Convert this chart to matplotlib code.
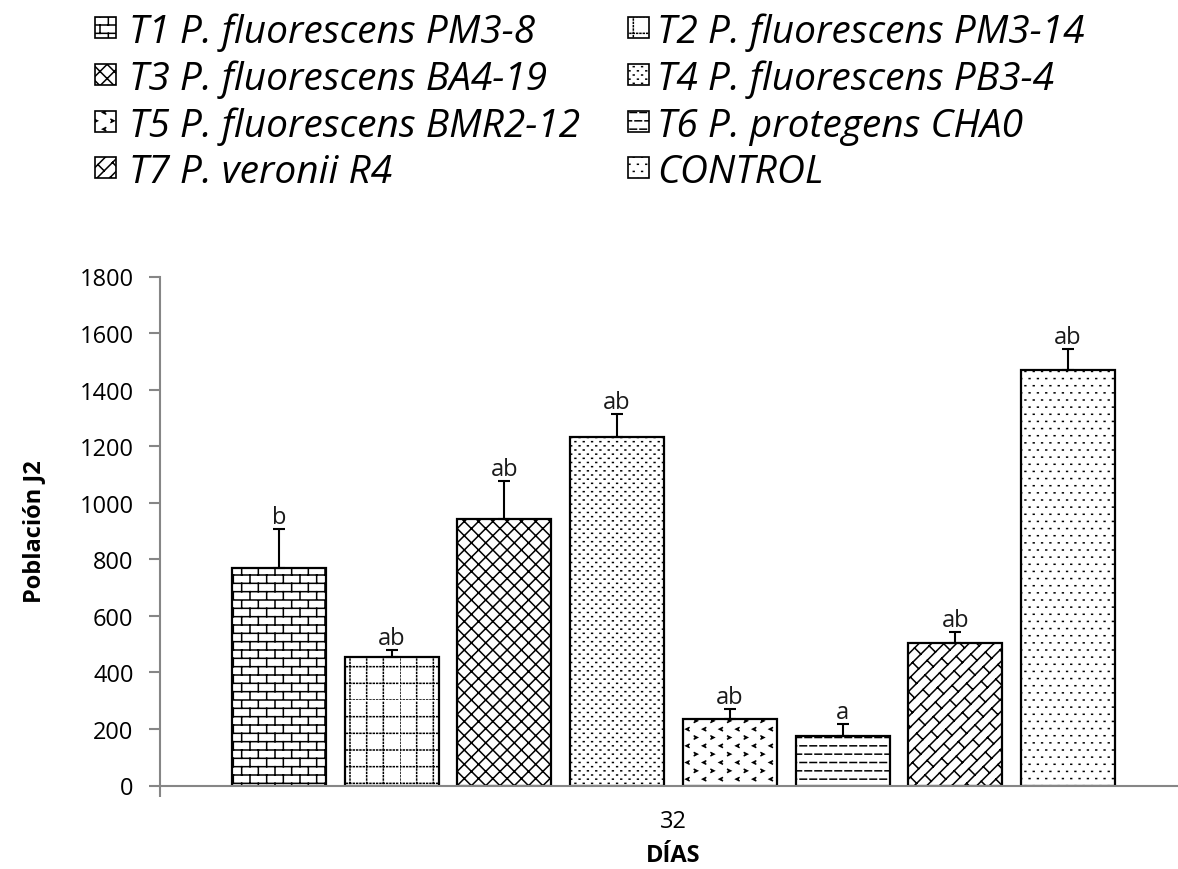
import numpy as np
import matplotlib
matplotlib.use("Agg")
import matplotlib.pyplot as plt
import matplotlib.hatch as mhatch
from matplotlib.path import Path
from matplotlib.patches import Rectangle

# ---------------- data ----------------
treatments = ["T1 P. fluorescens PM3-8", "T2 P. fluorescens PM3-14",
              "T3 P. fluorescens BA4-19", "T4 P. fluorescens PB3-4",
              "T5 P. fluorescens BMR2-12", "T6 P. protegens CHA0",
              "T7 P. veronii R4", "CONTROL"]
means = [768, 455, 942, 1231, 235, 174, 503, 1469]
errors = [139, 24, 135, 83, 35, 44, 39, 75]
letters = ["b", "ab", "ab", "ab", "ab", "a", "ab", "ab"]
day_label = ["32"]
yticks = [0, 200, 400, 600, 800, 1000, 1200, 1400, 1600, 1800]

# ---------------- custom hatch patterns (100 px tile) ----------------
def _pl_to_path(polylines):
    verts, codes = [], []
    for pl in polylines:
        for j, (x, y) in enumerate(pl):
            verts.append((x / 100.0, y / 100.0))
            codes.append(Path.MOVETO if j == 0 else Path.LINETO)
    return Path(np.array(verts, float), np.array(codes, dtype=Path.code_type))

def _brick():
    h, w = 100 / 12, 100 / 6
    pl = [[(-2, k * h), (102, k * h)] for k in range(13)]
    for k in range(12):
        off = (k % 2) * w / 2
        for j in range(-1, 7):
            x = j * w + off
            pl.append([(x, k * h), (x, (k + 1) * h)])
    return pl

def _dotgrid():
    w = 100 / 6
    pl = []
    for j in range(6):
        c = j * w
        for m in range(30):
            p = m * 100 / 30
            pl.append([(c, p), (c, p + 0.9)])
            pl.append([(p, c), (p + 0.9, c)])
    return pl

def _cross():
    s = 100 / 7
    pl = []
    for k in range(-8, 16):
        c = k * s
        pl.append([(-20, -20 + c), (120, 120 + c)])
        pl.append([(-20, 20 + c), (120, -120 + c)])
    return pl

def _chevrons():
    h, w, s = 100 / 12, 100 / 6, 1.5
    pl = []
    for k in range(12):
        y = (k + 0.5) * h
        for j in range(-1, 7):
            if k % 2 == 0:
                x = j * w + w * 0.25
                pl.append([(x + s, y + s), (x - s, y), (x + s, y - s)])
            else:
                x = j * w + w * 0.75
                pl.append([(x - s, y + s), (x + s, y), (x - s, y - s)])
    return pl

def _dashes():
    h = 100 / 12
    pl = []
    for k in range(12):
        y = k * h + h / 2
        off = (k % 2) * 5
        for m in range(-1, 11):
            x = m * 10 + off
            pl.append([(x, y), (x + 6.5, y)])
    return pl

def _diagbrick():
    d, T = 100 / 8, 50 / 3
    pl = []
    for k in range(-9, 10):
        c = k * d
        pl.append([(-20, -20 + c), (120, 120 + c)])
        off = (k % 2) * T / 2
        for m in range(-3, 12):
            t = m * T + off
            pl.append([(t - c / 2, t + c / 2), (t - c / 2 - d / 2, t + c / 2 + d / 2)])
    return pl

def _dots(nx, ny):
    hx, hy = 100 / nx, 100 / ny
    pl = []
    for k in range(ny + 1):
        off = (k % 2) * hx / 2
        for j in range(-1, nx + 1):
            x = j * hx + off
            y = k * hy
            pl.append([(x, y), (x + 0.8, y)])
    return pl

CUSTOM = {
    "B": _pl_to_path(_brick()),
    "G": _pl_to_path(_dotgrid()),
    "C": _pl_to_path(_cross()),
    "V": _pl_to_path(_chevrons()),
    "D": _pl_to_path(_dashes()),
    "W": _pl_to_path(_diagbrick()),
    "P": _pl_to_path(_dots(12, 24)),
    "Q": _pl_to_path(_dots(12, 14)),
}
_orig_get_path = mhatch.get_path

def _get_path(hatchpattern, density=6):
    if hatchpattern in CUSTOM:
        return CUSTOM[hatchpattern]
    return _orig_get_path(hatchpattern, density)

mhatch.get_path = _get_path
mhatch._validate_hatch_pattern = lambda h: None

hatches = ["B", "G", "C", "P", "V", "D", "W", "Q"]

# ---------------- style ----------------
plt.rcParams["font.family"] = ["Open Sans", "DejaVu Sans"]
plt.rcParams["hatch.linewidth"] = 1.1
plt.rcParams["hatch.color"] = "black"
axis_gray = "#868686"

fig = plt.figure(figsize=(11.78, 8.70), dpi=100)
W, H = 1178.0, 870.0
ax_left, ax_right, ax_bot, ax_top = 160, 1187, 786.5, 277.5
ax = fig.add_axes([ax_left / W, 1 - ax_bot / H, (ax_right - ax_left) / W,
                   (ax_bot - ax_top) / H])

n = len(means)
step = 112.7 / (ax_right - ax_left)
width = 94.0 / (ax_right - ax_left)
xpos = (np.arange(n) - (n - 1) / 2) * step

bars = ax.bar(xpos, means, width=width, color="white", edgecolor="black",
              linewidth=1.6, hatch=hatches, zorder=2)
ax.errorbar(xpos, means, yerr=[np.zeros(n), errors], fmt="none",
            ecolor="black", elinewidth=1.5, capsize=4.5, capthick=1.5, zorder=3)
for x, m, e, t in zip(xpos, means, errors, letters):
    ax.annotate(t, (x, m + e), xytext=(0, 0), textcoords="offset points",
                ha="center", va="bottom", fontsize=17, color="#1a1a1a")

ax.set_xlim(-0.5, 0.5)
ax.set_ylim(0, 1800)
ax.set_yticks(yticks)
ax.set_yticklabels([str(v) for v in yticks], fontsize=17)
ax.set_xticks([0])
ax.set_xticklabels(day_label, fontsize=17)
ax.set_xticks([-0.5, 0.5], minor=True)
ax.tick_params(axis="x", which="major", length=0, pad=17)
ax.tick_params(axis="x", which="minor", length=8, width=1.5, color=axis_gray,
               direction="out")
ax.tick_params(axis="y", length=8, width=1.5, color=axis_gray, pad=11)
for s in ["top", "right"]:
    ax.spines[s].set_visible(False)
for s in ["left", "bottom"]:
    ax.spines[s].set_color(axis_gray)
    ax.spines[s].set_linewidth(1.5)

ax.set_ylabel("Población J2", fontsize=17, fontweight="bold", labelpad=24)
ax.set_xlabel("DÍAS", fontsize=17, fontweight="bold", labelpad=7)

# ---------------- legend (manual, 2 columns row-wise) ----------------
marker_x = [95, 628]
text_x = [129, 657]
baselines = [43, 90, 137, 183]
msize = 21
for i, (lab, hat) in enumerate(zip(treatments, hatches)):
    col, row = i % 2, i // 2
    yb = baselines[row]
    rect = Rectangle((marker_x[col] / W, 1 - (yb - 4) / H), msize / W, msize / H,
                     transform=fig.transFigure, facecolor="white",
                     edgecolor="black", linewidth=1.2, hatch=hat)
    fig.add_artist(rect)
    fig.text(text_x[col] / W, 1 - yb / H, lab, fontsize=28, fontstyle="italic",
             ha="left", va="baseline", color="black")

fig.savefig("out.png", dpi=100)
